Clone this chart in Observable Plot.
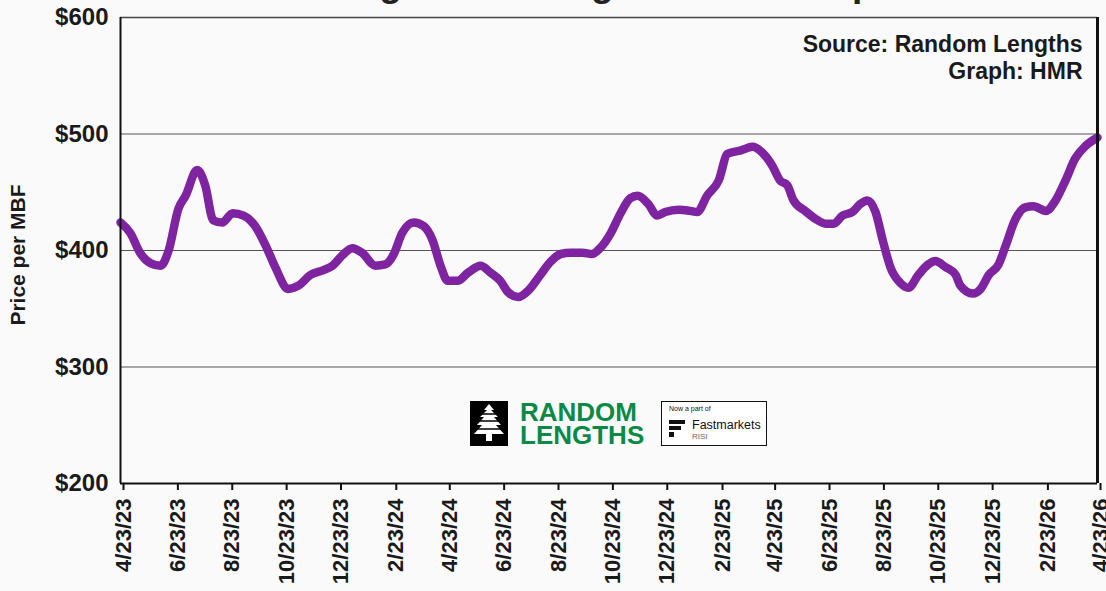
<!DOCTYPE html>
<html>
<head>
<meta charset="utf-8">
<script src="https://cdn.jsdelivr.net/npm/d3@7"></script>
<script src="https://cdn.jsdelivr.net/npm/@observablehq/plot@0.6"></script>
<style>
  html, body { margin: 0; padding: 0; background: #fbfafa; overflow: hidden; }
  #wrap { position: relative; width: 1106px; height: 591px; font-family: "Liberation Sans", Arial, sans-serif; }
  #title { position: absolute; top: -35px; left: 120px; width: 977px; text-align: center;
           font: bold 37px/37px "Liberation Sans", Arial, sans-serif; color: #222; white-space: nowrap; }
  #ylabel { position: absolute; left: 18px; top: 255px; transform: translate(-50%, -50%) rotate(-90deg);
            font: bold 21px/22px "Liberation Sans", Arial, sans-serif; color: #1a1a1a; white-space: nowrap; }
  #logo { position: absolute; left: 470px; top: 401px; width: 300px; height: 45px; }
  #rl1, #rl2 { position: absolute; left: 50px; color: #0b8a47; font: bold 26px/22px "Liberation Sans", Arial, sans-serif; letter-spacing: 0px; }
  #rl1 { top: 0px; }
  #rl2 { top: 23px; }
  #fm { position: absolute; left: 191px; top: 0px; width: 106px; height: 45px; background: #fff; border: 1px solid #111; box-sizing: border-box; }
  #fm .now { position: absolute; left: 7px; top: 3px; font-size: 7px; color: #111; }
  #fm .name { position: absolute; left: 30px; top: 16px; font-size: 12.5px; color: #111; }
  #fm .risi { position: absolute; left: 30px; top: 30px; font-size: 8px; color: #666; }
  #fm svg { position: absolute; left: 7px; top: 18px; }
</style>
</head>
<body>
<div id="wrap">
  <div id="title">Random Lengths Framing Lumber Composite Price</div>
  <div id="chart"></div>
  <div id="ylabel"></div>
  <div id="logo">
    <svg width="38" height="45" style="position:absolute;left:0;top:0">
      <rect x="0" y="0" width="38" height="45" fill="#000"/>
      <polygon fill="#fff" points="19,3 24,9 21,9 28,16 24,16 31,24 26,24 34,33 4,33 12,24 7,24 14,16 10,16 17,9 14,9"/>
      <line x1="8" y1="20" x2="30" y2="20" stroke="#000" stroke-width="1.5"/>
      <line x1="6" y1="28" x2="32" y2="28" stroke="#000" stroke-width="1.5"/>
      <line x1="10" y1="13" x2="26" y2="13" stroke="#000" stroke-width="1.5"/>
      <rect x="16" y="33" width="6" height="7" fill="#fff"/>
    </svg>
    <div id="rl1">RANDOM</div>
    <div id="rl2">LENGTHS</div>
    <div id="fm">
      <div class="now">Now a part of</div>
      <svg width="18" height="18">
        <rect x="0" y="0" width="16" height="4" fill="#111"/>
        <rect x="0" y="6" width="12" height="4" fill="#111"/>
        <rect x="0" y="12" width="5" height="5" fill="#111"/>
      </svg>
      <div class="name">Fastmarkets</div>
      <div class="risi">RISI</div>
    </div>
  </div>
</div>
<script>
// ---- data ----
const START = "2023-04-23";
const END = "2026-04-23";
const dayOffsets = [0, 11, 22, 34, 45, 54, 65, 73, 86, 95, 104, 114, 126, 138, 151, 163, 174, 188, 200, 213,
  227, 238, 249, 260, 271, 286, 297, 306, 316, 329, 340, 350, 359, 367, 378, 390, 404, 415, 426, 435,
  446, 458, 471, 482, 494, 505, 518, 529, 538, 550, 561, 572, 580, 592, 602, 611, 626, 639, 647, 658,
  671, 681, 696, 709, 720, 731, 740, 748, 755, 768, 780, 791, 800, 810, 821, 830, 838, 847, 855, 864,
  875, 884, 895, 906, 914, 925, 937, 942, 956, 965, 974, 985, 993, 1004, 1015, 1024, 1038, 1049, 1060, 1071,
  1083, 1096];
const prices = [424, 415, 398, 389, 387, 400, 436, 447, 469, 456, 426, 424, 432, 430, 421, 404, 385, 367, 370, 379,
  383, 387, 396, 402, 398, 387, 388, 396, 415, 424, 421, 409, 387, 374, 374, 381, 387, 381, 374, 364,
  360, 366, 379, 390, 397, 398, 398, 397, 402, 415, 432, 445, 447, 440, 430, 433, 435, 434, 433, 447,
  460, 483, 486, 489, 484, 473, 460, 456, 443, 434, 427, 423, 423, 430, 433, 440, 443, 433, 409, 385,
  372, 368, 379, 388, 391, 386, 379, 370, 363, 367, 379, 388, 404, 427, 437, 438, 434, 443, 460, 479,
  490, 497];
const yTicks = [200, 300, 400, 500, 600];
const gridValues = [300, 400, 500];
const xTickLabels = ["4/23/23", "6/23/23", "8/23/23", "10/23/23", "12/23/23", "2/23/24", "4/23/24", "6/23/24",
  "8/23/24", "10/23/24", "12/23/24", "2/23/25", "4/23/25", "6/23/25", "8/23/25", "10/23/25", "12/23/25",
  "2/23/26", "4/23/26"];
const yLabel = "Price per MBF";
const sourceText = "Source: Random Lengths\nGraph: HMR";

// ---- build ----
const start = new Date(START + "T00:00:00Z");
const end = new Date(END + "T00:00:00Z");
const data = dayOffsets.map((d, i) => ({ date: d3.utcDay.offset(start, d), price: prices[i] }));
const parseTick = d3.utcParse("%m/%d/%y");
const tickDates = xTickLabels.map(parseTick);
const fmt = d3.utcFormat("%-m/%-d/%y");

document.getElementById("ylabel").textContent = yLabel;

const chart = Plot.plot({
  width: 1106,
  height: 591,
  marginTop: 17,
  marginLeft: 120,
  marginRight: 9,
  marginBottom: 108,
  style: { background: "transparent", fontFamily: "'Liberation Sans', Arial, sans-serif", fontWeight: "bold", color: "#1a1a1a", overflow: "visible" },
  x: { type: "utc", domain: [start, end] },
  y: { domain: [200, 600] },
  marks: [
    Plot.gridY(gridValues, { stroke: "#555", strokeOpacity: 1, strokeWidth: 1.2 }),
    Plot.ruleY([600], { stroke: "#444", strokeWidth: 1.5 }),
    Plot.line(data, { x: "date", y: "price", stroke: "#7e24a0", strokeWidth: 8.5, strokeLinejoin: "round", strokeLinecap: "round", curve: "monotone-x" }),
    Plot.ruleX([start], { stroke: "#111", strokeWidth: 2 }),
    Plot.ruleX([end], { stroke: "#111", strokeWidth: 3 }),
    Plot.ruleY([200], { stroke: "#111", strokeWidth: 2 }),
    Plot.axisY(yTicks, { tickSize: 0, tickPadding: 12, tickFormat: d => "$" + d, fontSize: 24, label: null }),
    Plot.axisX(tickDates, { tickSize: 7, tickPadding: 8, tickRotate: -90, fontSize: 22, label: null, stroke: "#111", strokeWidth: 2, tickFormat: fmt, dx: 3 }),
    Plot.text([sourceText], { frameAnchor: "top-right", textAnchor: "end", lineAnchor: "top", dx: -15, dy: 16, fontSize: 23, lineHeight: 1.15, fill: "#1a1a1a" })
  ]
});
document.getElementById("chart").appendChild(chart);
</script>
</body>
</html>
